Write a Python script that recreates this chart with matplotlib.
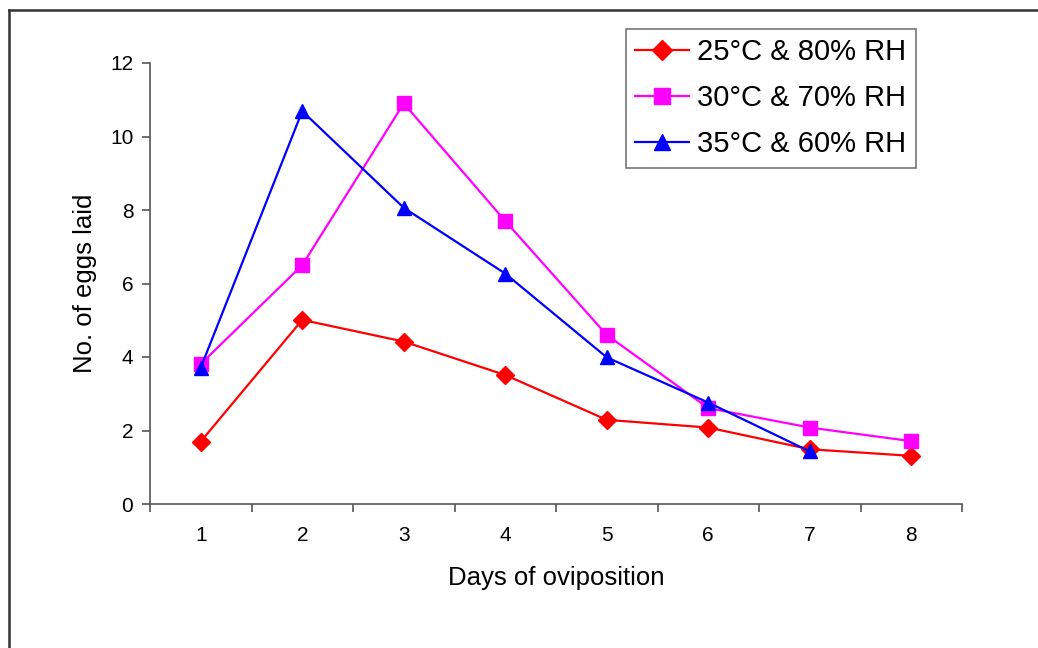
import matplotlib
matplotlib.use("Agg")
import matplotlib.pyplot as plt
from matplotlib.lines import Line2D

plt.rcParams['font.family'] = ['Liberation Sans', 'DejaVu Sans']

days = [1, 2, 3, 4, 5, 6, 7, 8]
eggs_25c = [1.70, 5.01, 4.42, 3.51, 2.29, 2.08, 1.49, 1.31]
eggs_30c = [3.81, 6.50, 10.90, 7.70, 4.60, 2.61, 2.08, 1.71]
eggs_35c = [3.71, 10.69, 8.06, 6.27, 3.99, 2.76, 1.43]
labels = ['25°C & 80% RH', '30°C & 70% RH', '35°C & 60% RH']
y_ticks = [0, 2, 4, 6, 8, 10, 12]

fig = plt.figure(figsize=(10.38, 6.48), dpi=100)
ax = fig.add_axes([150 / 1038, 1 - 504 / 648, 812 / 1038, 441 / 648])

ax.plot(days, eggs_25c, color='#ff0000', lw=1.6, marker='D', ms=9, label=labels[0])
ax.plot(days, eggs_30c, color='#ff00ff', lw=1.6, marker='s', ms=9.5, label=labels[1])
ax.plot(days[:len(eggs_35c)], eggs_35c, color='#0000ff', lw=1.6, marker='^', ms=10.5, label=labels[2])

ax.set_xlim(0.5, 8.5)
ax.set_ylim(0, 12)
ax.set_yticks(y_ticks)
ax.set_xticks(days)
ax.set_xticks([d + 0.5 for d in range(0, 9)], minor=True)
ax.tick_params(axis='x', which='major', length=0, pad=16, labelsize=15)
ax.tick_params(axis='x', which='minor', length=6, width=1.2, color='#555555', direction='out')
ax.tick_params(axis='y', length=6, width=1.2, color='#555555', direction='out', pad=6, labelsize=15)

for side in ('top', 'right'):
    ax.spines[side].set_visible(False)
for side in ('left', 'bottom'):
    ax.spines[side].set_color('#555555')
    ax.spines[side].set_linewidth(1.2)

ax.set_xlabel('Days of oviposition', fontsize=18.5, labelpad=15)
ax.set_ylabel('No. of eggs laid', fontsize=18.5, labelpad=9)

leg = fig.legend(loc='upper left', bbox_to_anchor=(626 / 1038, 1 - 29 / 648),
                 borderaxespad=0, fontsize=21, frameon=True, fancybox=False,
                 handlelength=1.85, handletextpad=0.28, borderpad=0.32,
                 labelspacing=0.62, markerscale=1.15)
leg.get_frame().set_edgecolor('#555555')
leg.get_frame().set_linewidth(1.2)

# outer frame (left and top edges)
fig.add_artist(Line2D([8.5 / 1038, 8.5 / 1038], [0, 1 - 9.5 / 648], transform=fig.transFigure,
                      color='#333333', lw=1.8))
fig.add_artist(Line2D([8.5 / 1038, 1], [1 - 9.5 / 648, 1 - 9.5 / 648], transform=fig.transFigure,
                      color='#333333', lw=1.8))

fig.savefig('out.png', dpi=100)
